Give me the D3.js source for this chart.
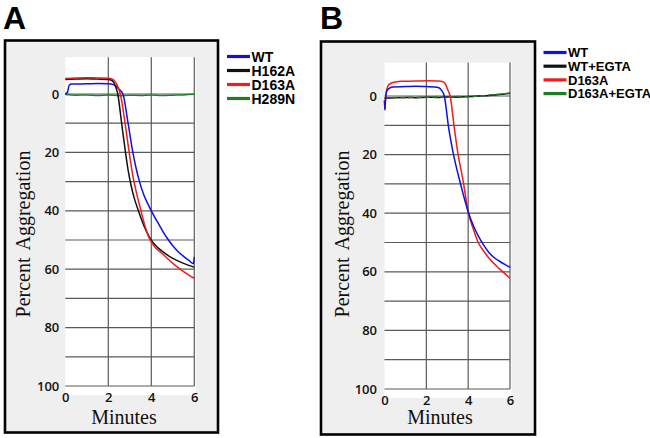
<!DOCTYPE html>
<html>
<head>
<meta charset="utf-8">
<script src="https://cdn.jsdelivr.net/npm/d3@7"></script>
<style>
  html, body { margin: 0; padding: 0; background: #ffffff; }
  svg { display: block; }
</style>
</head>
<body>
<svg id="chart" width="650" height="438"></svg>
<script>
// ---------------- DATA ----------------
const panelLetters = ["A", "B"];
const xTicks = [0, 2, 4, 6];
const yTicks = [0, 20, 40, 60, 80, 100];
const yGrid = [0, 10, 20, 30, 40, 50, 60, 70, 80, 90, 100];
const xGrid = [2, 4, 6];
const xTitle = "Minutes";
const yTitle = "Percent Aggregation";

const legendA = ["WT", "H162A", "D163A", "H289N"];
const legendB = ["WT", "WT+EGTA", "D163A", "D163A+EGTA"];
const seriesColors = ["#1010e0", "#111111", "#ee1c1c", "#1e7d24"];

// Panel A
const tA_WT   = [0, 0.1, 0.18, 0.3, 1, 1.5, 2, 2.2, 2.35, 2.5, 2.68, 2.92, 3.13, 3.28, 3.45, 3.65, 3.85, 4.05, 4.3, 4.55, 4.75, 5.0, 5.25, 5.5, 5.75, 5.96, 6.0];
const vA_WT   = [0, -0.6, -3.0, -3.4, -3.5, -3.6, -3.5, -3.3, -2.8, -1.6, 0, 10, 19.5, 25, 30, 34.5, 37.8, 40.7, 44, 47.2, 49.5, 52.0, 54.0, 55.6, 57.0, 58.1, 55.8];
const tA_H162A = [0, 0.5, 1, 1.5, 2, 2.15, 2.25, 2.34, 2.44, 2.62, 2.8, 2.92, 3.05, 3.2, 3.4, 3.65, 3.95, 4.25, 4.5, 5.0, 5.5, 6.0];
const vA_H162A = [-5.0, -5.1, -5.2, -5.1, -5.0, -4.7, -4.0, -2.5, 0, 10, 20, 26, 31, 35.5, 40, 45, 49.5, 52.2, 53.8, 56.3, 58, 59.3];
const tA_D163A = [0, 0.5, 1, 1.5, 2, 2.2, 2.3, 2.4, 2.48, 2.56, 2.78, 2.97, 3.13, 3.3, 3.52, 3.7, 3.88, 4.1, 4.5, 5.0, 5.5, 6.0];
const vA_D163A = [-5.3, -5.5, -5.6, -5.5, -5.4, -5.1, -4.4, -3.2, -1.8, 0, 10, 20, 27.5, 33.5, 40, 45, 49, 51.8, 54.6, 58, 60.8, 63.1];
const tA_H289N = [0, 0.5, 1, 1.5, 2, 2.5, 3, 3.5, 4, 4.5, 5, 5.5, 6];
const vA_H289N = [0.2, 0.4, 0.3, 0.5, 0.3, 0.6, 0.4, 0.5, 0.3, 0.5, 0.4, 0.3, 0.1];

// Panel B
const tB_WT   = [0, 0.02, 0.05, 0.1, 0.2, 0.4, 1, 1.5, 2, 2.4, 2.6, 2.72, 2.86, 3.06, 3.3, 3.6, 3.8, 4.0, 4.25, 4.5, 4.75, 5.0, 5.25, 5.5, 5.75, 6.0];
const vB_WT   = [1.5, 4.8, 1, -1.5, -2.5, -3.1, -3.2, -3.3, -3.2, -3.1, -2.8, -2, 0, 10.5, 20, 29, 34.5, 39.5, 44.3, 48, 51, 53.5, 55.2, 56.4, 57.5, 58.5];
const tB_WTEGTA = [0, 0.5, 1, 1.5, 2, 2.5, 3, 3.5, 4, 4.5, 5, 5.5, 6];
const vB_WTEGTA = [0.8, 0.6, 0.5, 0.6, 0.4, 0.5, 0.3, 0.4, 0.2, 0.0, -0.2, -0.5, -0.9];
const tB_D163A = [0, 0.02, 0.05, 0.1, 0.2, 0.4, 0.8, 1.5, 2, 2.5, 2.8, 2.92, 3.02, 3.14, 3.33, 3.52, 3.75, 4.0, 4.25, 4.48, 4.75, 5.0, 5.5, 6.0];
const vB_D163A = [1.5, 4.5, 1, -2, -3.8, -4.6, -5, -5.1, -5.2, -5.1, -4.9, -4, -2.2, 0, 10.5, 20, 28.6, 39.5, 45.5, 50, 53, 55.4, 59, 62.2];
const tB_D163AEGTA = [0, 0.5, 1, 1.5, 2, 2.5, 3, 3.5, 4, 4.5, 5, 5.5, 6];
const vB_D163AEGTA = [0.6, 0.5, 0.6, 0.4, 0.5, 0.3, 0.4, 0.2, 0.3, 0.0, -0.3, -0.6, -1.0];

// ---------------- DRAW ----------------
const svg = d3.select("#chart");

const zip = (t, v) => t.map((d, i) => ({ t: d, v: v[i] }));

const panels = [
  {
    letter: panelLetters[0], letterX: 3,
    box: { x: 5, y: 40.5, w: 213, h: 392 },
    xr: [65.3, 194.3], yr: [94, 386], whiteTop: -12.6,
    labelPad: 6, yTitleX: 29.5, xTitleX: 124,
    legend: legendA, legX: 227, legY: 56.5, legStep: 14, legFont: 14,
    series: [
      { t: tA_H289N, v: vA_H289N, c: 3 },
      { t: tA_WT, v: vA_WT, c: 0 },
      { t: tA_H162A, v: vA_H162A, c: 1 },
      { t: tA_D163A, v: vA_D163A, c: 2 }
    ]
  },
  {
    letter: panelLetters[1], letterX: 320,
    box: { x: 321, y: 41.5, w: 214, h: 393 },
    xr: [384.5, 510], yr: [96, 389], whiteTop: -11.4,
    labelPad: 7.5, yTitleX: 348.5, xTitleX: 440,
    legend: legendB, legX: 543.5, legY: 52.5, legStep: 13.7, legFont: 13,
    series: [
      { t: tB_WTEGTA, v: vB_WTEGTA, c: 1 },
      { t: tB_D163AEGTA, v: vB_D163AEGTA, c: 3, dash: "5,3" },
      { t: tB_D163A, v: vB_D163A, c: 2 },
      { t: tB_WT, v: vB_WT, c: 0 }
    ]
  }
];

panels.forEach(p => {
  const g = svg.append("g");
  const x = d3.scaleLinear().domain([0, 6]).range(p.xr);
  const y = d3.scaleLinear().domain([0, 100]).range(p.yr);

  // panel letter
  g.append("text")
    .attr("x", p.letterX).attr("y", 28.5)
    .attr("font-family", "'Liberation Sans', Arial, sans-serif")
    .attr("font-weight", "bold").attr("font-size", 32)
    .attr("fill", "#000").text(p.letter);

  // box
  g.append("rect")
    .attr("x", p.box.x).attr("y", p.box.y)
    .attr("width", p.box.w).attr("height", p.box.h)
    .attr("fill", "#efefef").attr("stroke", "#000").attr("stroke-width", 2.6);

  // white plot area
  g.append("rect")
    .attr("x", x(0)).attr("y", y(p.whiteTop))
    .attr("width", x(6) - x(0) + 1.5)
    .attr("height", y(100) + 9 - y(p.whiteTop))
    .attr("fill", "#ffffff");

  // horizontal gridlines
  g.append("g").selectAll("line").data(yGrid).join("line")
    .attr("x1", x(0)).attr("x2", x(6))
    .attr("y1", d => y(d)).attr("y2", d => y(d))
    .attr("stroke", "#5a5a5a").attr("stroke-width", 1.2);

  // vertical gridlines
  g.append("g").selectAll("line").data(xGrid).join("line")
    .attr("x1", d => x(d)).attr("x2", d => x(d))
    .attr("y1", y(p.whiteTop)).attr("y2", y(100))
    .attr("stroke", "#5a5a5a").attr("stroke-width", 1.2);

  // y axis labels
  const ya = g.append("g").attr("transform", `translate(${x(0)},0)`)
    .call(d3.axisLeft(y).tickValues(yTicks).tickSize(0).tickPadding(p.labelPad));
  ya.select(".domain").remove();
  ya.selectAll("text")
    .attr("font-family", "'Open Sans', sans-serif").attr("font-size", 13)
    .attr("font-weight", 600).attr("fill", "#111");

  // x axis labels
  const xa = g.append("g").attr("transform", `translate(0,${y(100)})`)
    .call(d3.axisBottom(x).tickValues(xTicks).tickFormat(d3.format("d")).tickSize(0).tickPadding(7));
  xa.select(".domain").remove();
  xa.selectAll("text")
    .attr("font-family", "'Open Sans', sans-serif").attr("font-size", 13)
    .attr("font-weight", 600).attr("fill", "#111");

  // axis titles
  g.append("text")
    .attr("x", p.xTitleX).attr("y", 424)
    .attr("text-anchor", "middle")
    .attr("font-family", "'Liberation Serif', 'Times New Roman', serif")
    .attr("font-size", 20).attr("fill", "#111").text(xTitle);

  g.append("text")
    .attr("transform", `translate(${p.yTitleX},234) rotate(-90)`)
    .attr("text-anchor", "middle")
    .attr("word-spacing", 3)
    .attr("font-family", "'Liberation Serif', 'Times New Roman', serif")
    .attr("font-size", 20).attr("fill", "#111").text(yTitle);

  // series
  const line = d3.line().x(d => x(d.t)).y(d => y(d.v)).curve(d3.curveMonotoneX);
  p.series.forEach(s => {
    g.append("path")
      .datum(zip(s.t, s.v))
      .attr("d", line)
      .attr("fill", "none")
      .attr("stroke", seriesColors[s.c])
      .attr("stroke-width", 1.5)
      .attr("stroke-dasharray", s.dash || null);
  });

  // legend
  const lg = g.append("g");
  p.legend.forEach((name, i) => {
    const ly = p.legY + i * p.legStep;
    lg.append("line")
      .attr("x1", p.legX).attr("x2", p.legX + 23)
      .attr("y1", ly).attr("y2", ly)
      .attr("stroke", seriesColors[i]).attr("stroke-width", 3.2);
    lg.append("text")
      .attr("x", p.legX + 24.5).attr("y", ly + p.legFont * 0.36)
      .attr("font-family", "'Liberation Sans', Arial, sans-serif")
      .attr("font-weight", "bold").attr("font-size", p.legFont)
      .attr("fill", "#000").text(name);
  });
});
</script>
</body>
</html>
